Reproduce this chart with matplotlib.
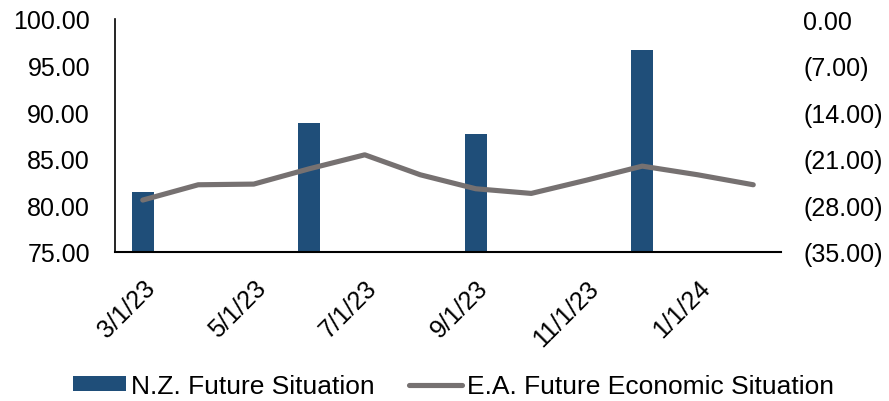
import numpy as np
import matplotlib.pyplot as plt
import matplotlib.transforms as mtransforms
from matplotlib.ticker import FuncFormatter

plt.rcParams['font.family'] = ['Liberation Sans', 'DejaVu Sans']

dates = ['3/1/23', '4/1/23', '5/1/23', '6/1/23', '7/1/23', '8/1/23',
         '9/1/23', '10/1/23', '11/1/23', '12/1/23', '1/1/24', '2/1/24']
nz_future = [81.4, np.nan, np.nan, 88.8, np.nan, np.nan,
             87.7, np.nan, np.nan, 96.7, np.nan, np.nan]
ea_future = [-27.2, -24.9, -24.8, -22.5, -20.4, -23.4,
             -25.5, -26.2, -24.2, -22.1, -23.4, -24.9]

bar_color = '#1F4E79'
line_color = '#767171'

fig = plt.figure(figsize=(8.89, 4.02), dpi=100)
ax = fig.add_axes([115/889, 1 - 253/402, (781-115)/889, (253-20)/402])
ax2 = ax.twinx()

x = np.arange(len(dates))
ax.bar(x, nz_future, width=0.4, color=bar_color, label='N.Z. Future Situation', zorder=2)
ax2.plot(x, ea_future, color=line_color, lw=3.7, solid_capstyle='round',
         label='E.A. Future Economic Situation', zorder=3)

ax.set_xlim(-0.5, len(dates) - 0.5)
ax.set_ylim(75, 100)
ax.set_yticks(np.arange(75, 100.1, 5))
ax.yaxis.set_major_formatter(FuncFormatter(lambda v, p: f'{v:.2f}'))
ax2.set_ylim(-35, 0)
ax2.set_yticks(np.arange(-35, 0.1, 7))


def paren(v, p):
    if v < -1e-9:
        return f'({abs(v):.2f})'
    return f'{abs(v):.2f}'


ax2.yaxis.set_major_formatter(FuncFormatter(paren))

ax.set_xticks(x[::2])
ax.set_xticklabels(dates[::2], rotation=45, ha='right', va='top',
                   rotation_mode='anchor', fontsize=18)
shift = mtransforms.ScaledTranslation(4/100, 0, fig.dpi_scale_trans)
for lbl in ax.get_xticklabels():
    lbl.set_transform(lbl.get_transform() + shift)
ax.tick_params(axis='x', length=0, pad=17)
ax.tick_params(axis='y', length=0, labelsize=18, pad=18)
ax2.tick_params(axis='y', length=0, labelsize=18, pad=16)

for a in (ax, ax2):
    a.spines['top'].set_visible(False)
    a.spines['right'].set_visible(False)
ax2.spines['left'].set_visible(False)
ax2.spines['bottom'].set_visible(False)
ax.spines['left'].set_linewidth(1.2)
ax.spines['bottom'].set_linewidth(1.5)

ax.set_zorder(ax2.get_zorder() - 1)
ax2.patch.set_visible(False)

h1, l1 = ax.get_legend_handles_labels()
h2, l2 = ax2.get_legend_handles_labels()
fig.legend(h1 + h2, l1 + l2, loc='center', bbox_to_anchor=(0.51, 0.037),
           ncol=2, frameon=False, fontsize=19, handlelength=2.0,
           handleheight=0.5, handletextpad=0.2, columnspacing=1.3,
           borderpad=0, borderaxespad=0)

fig.savefig('out.png', dpi=100)
